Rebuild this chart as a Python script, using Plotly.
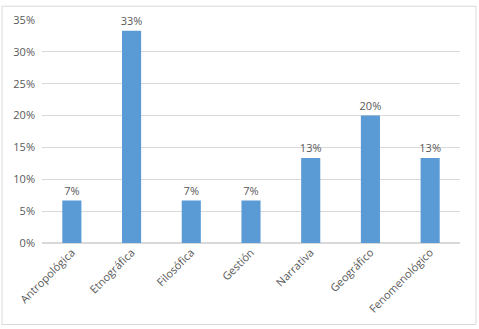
import plotly.graph_objects as go

categories = ["Antropológica", "Etnográfica", "Filosófica", "Gestión", "Narrativa", "Geográfico", "Fenomenológico"]
values = [0.0667, 0.3333, 0.0667, 0.0667, 0.1333, 0.20, 0.1333]
y_ticks = [0, 0.05, 0.10, 0.15, 0.20, 0.25, 0.30, 0.35]

W, H = 479, 329
ml, mr, mt, mb = 42, 19, 16, 86
pw, ph = W - ml - mr, H - mt - mb

fig = go.Figure(go.Bar(
    x=categories, y=values,
    marker=dict(color="#5B9BD5", line=dict(width=0)),
    texttemplate="%{y:.0%}", textposition="outside",
    constraintext="none",
    textfont=dict(size=11, color="#595959"),
    cliponaxis=False,
))

fig.update_layout(
    width=W, height=H,
    margin=dict(l=ml, r=mr, t=mt, b=mb),
    paper_bgcolor="white", plot_bgcolor="white",
    bargap=0.68,
    showlegend=False,
    font=dict(family="Open Sans, Liberation Sans, sans-serif", size=11, color="#595959"),
    xaxis=dict(tickangle=-45, showgrid=False, zeroline=False, showline=False, ticks="",
               tickfont=dict(size=11, color="#595959")),
    yaxis=dict(range=[0, 0.35], tickvals=y_ticks, tickformat=".0%", showgrid=True,
               gridcolor="#D9D9D9", gridwidth=1, zeroline=True, zerolinecolor="#D9D9D9",
               showline=False, ticks="", ticklen=0, ticklabelstandoff=6,
               tickfont=dict(size=11, color="#595959")),
    shapes=[dict(type="rect", xref="paper", yref="paper",
                 x0=-(ml - 2) / pw, x1=1 + (mr - 3) / pw,
                 y0=-(mb - 3) / ph, y1=1 + (mt - 2) / ph,
                 line=dict(color="#D9D9D9", width=1), fillcolor="rgba(0,0,0,0)")],
)

fig.write_html("out.html")
